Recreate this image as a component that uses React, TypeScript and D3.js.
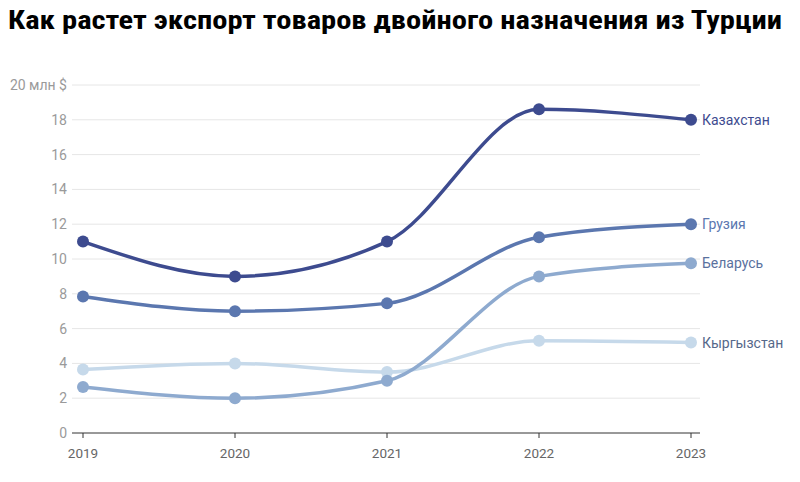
import React from "react";
import * as d3 from "d3";

const years = [2019, 2020, 2021, 2022, 2023];
const kazakhstan = [11, 9, 11, 18.6, 18];
const georgia = [7.85, 7, 7.45, 11.25, 12];
const belarus = [2.65, 2, 3, 9, 9.75];
const kyrgyzstan = [3.65, 4, 3.5, 5.3, 5.2];
const yTicks = [0, 2, 4, 6, 8, 10, 12, 14, 16, 18, 20];

const series = [
  { name: "Кыргызстан", values: kyrgyzstan, color: "#c6d9ea", label: "#55688a" },
  { name: "Беларусь", values: belarus, color: "#8eaacf", label: "#5a719e" },
  { name: "Грузия", values: georgia, color: "#5b77af", label: "#5b77af" },
  { name: "Казахстан", values: kazakhstan, color: "#3d4b8f", label: "#3d4b8f" },
];

export default function App() {
  const W = 800, H = 482;
  const x = d3.scaleLinear().domain([2019, 2023]).range([83, 691]);
  const y = d3.scaleLinear().domain([0, 20]).range([433, 85]);
  const line = d3
    .line<number>()
    .x((_, i) => x(years[i]))
    .y((d) => y(d))
    .curve(d3.curveMonotoneX);
  const font = "Roboto, 'Liberation Sans', sans-serif";
  return (
    <svg width={W} height={H} style={{ position: "absolute", left: 0, top: 0 }}>
      <rect width={W} height={H} fill="#fff" />
      <text x={8} y={29} fontFamily="'Liberation Sans Narrow', 'Roboto Condensed', Arial, sans-serif" fontWeight="bold" fontSize={26} fill="#000" textLength={774} lengthAdjust="spacingAndGlyphs">
        Как растет экспорт товаров двойного назначения из Турции
      </text>
      {yTicks.map((t) => (
        <g key={t}>
          {t !== 0 && (
            <line x1={72} x2={700} y1={y(t)} y2={y(t)} stroke="#e6e6e6" strokeWidth={1} />
          )}
          <text x={67} y={y(t) + 5} textAnchor="end" fontFamily={font} fontSize={14} fill="#9a9a9a">
            {t === 20 ? "20 млн $" : t}
          </text>
        </g>
      ))}
      <line x1={72} x2={700} y1={y(0)} y2={y(0)} stroke="#333" strokeWidth={1} />
      {years.map((yr) => (
        <g key={yr}>
          <line x1={x(yr)} x2={x(yr)} y1={y(0)} y2={y(0) + 5} stroke="#333" strokeWidth={1} />
          <text x={x(yr)} y={458} textAnchor="middle" fontFamily={font} fontSize={13.5} fill="#666">
            {yr}
          </text>
        </g>
      ))}
      {series.map((s) => (
        <g key={s.name}>
          <path d={line(s.values) || ""} fill="none" stroke={s.color} strokeWidth={3.5} />
          {s.values.map((v, i) => (
            <circle key={i} cx={x(years[i])} cy={y(v)} r={6} fill={s.color} />
          ))}
          <text x={x(2023) + 11} y={y(s.values[4]) + 5} fontFamily={font} fontSize={14} fill={s.label}>
            {s.name}
          </text>
        </g>
      ))}
    </svg>
  );
}
